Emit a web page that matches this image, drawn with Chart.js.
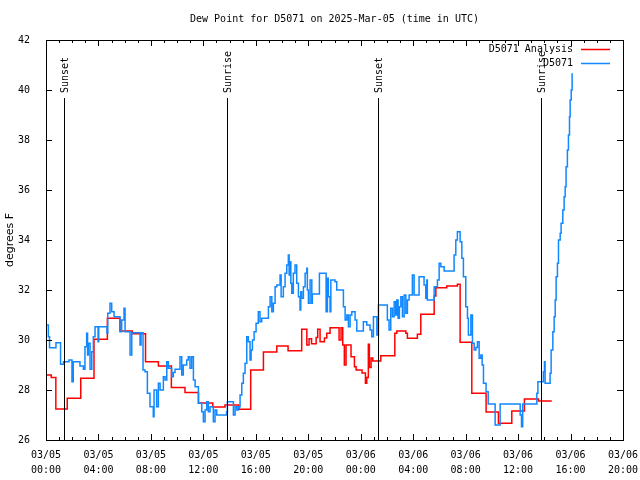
<!DOCTYPE html>
<html><head><meta charset="utf-8">
<script src="https://cdn.jsdelivr.net/npm/chart.js@4/dist/chart.umd.min.js"></script>
<style>html,body{margin:0;padding:0;background:#fff;}#wrap{width:640px;height:480px;}</style>
</head><body><div id="wrap"><canvas id="c" width="640" height="480"></canvas></div>
<script>
// ---- data (hours since 03/05 00:00 UTC, dew point degrees F) ----
const titleText = 'Dew Point for D5071 on 2025-Mar-05 (time in UTC)';
const yAxisLabel = 'degrees F';
const seriesNames = ['D5071 Analysis', 'D5071'];
const seriesColors = ['#ff0000', '#1188ff'];

const analysisHours = [0.00,0.40,0.75,1.62,2.65,3.66,4.68,5.64,6.58,7.59,8.57,9.56,10.60,11.63,12.72,13.65,14.71,15.61,16.58,17.60,18.46,19.50,19.89,20.06,20.25,20.60,20.72,20.90,21.23,21.41,21.66,22.35,22.50,22.63,22.75,22.88,23.26,23.52,23.65,24.10,24.36,24.46,24.58,24.66,24.79,24.92,25.53,26.60,26.75,27.44,27.56,28.32,28.58,29.60,29.73,30.56,31.37,31.58,32.47,33.56,34.50,35.52,36.48,37.55,38.57];
const analysisValues = [28.60,28.50,27.24,27.67,28.47,30.03,30.87,30.36,30.25,29.13,28.96,28.10,27.90,27.48,27.32,27.40,27.23,28.80,29.52,29.76,29.57,30.43,29.80,30.05,29.85,30.10,30.43,29.93,30.08,30.27,30.49,30.00,30.49,29.80,29.00,29.80,29.33,28.93,28.80,28.68,28.27,28.50,29.83,28.90,29.28,29.16,29.37,30.27,30.36,30.27,30.07,30.23,31.03,31.76,32.09,32.16,32.23,29.91,27.87,27.12,26.67,27.16,27.64,27.56,27.56];

const obsHours = [0.05,0.18,0.27,0.76,1.11,1.33,1.75,1.98,2.08,2.59,2.85,2.97,3.10,3.17,3.23,3.36,3.49,3.61,3.74,3.97,4.02,4.65,4.71,4.88,5.01,5.19,5.64,5.77,5.95,6.03,6.41,6.54,7.17,7.25,7.40,7.55,7.73,7.93,8.18,8.24,8.44,8.57,8.70,8.95,9.08,9.21,9.33,9.59,9.71,9.84,10.22,10.35,10.47,10.73,10.85,10.98,11.11,11.24,11.37,11.62,11.88,12.00,12.13,12.26,12.38,12.51,12.76,12.89,13.02,13.77,13.83,14.29,14.42,14.55,14.67,14.80,14.93,15.05,15.18,15.31,15.43,15.56,15.64,15.74,15.87,16.02,16.19,16.32,16.45,16.96,17.09,17.22,17.34,17.47,17.60,17.85,17.93,18.10,18.23,18.36,18.48,18.54,18.61,18.67,18.74,18.86,18.99,19.12,19.25,19.37,19.43,19.50,19.63,19.76,19.89,19.93,20.01,20.14,20.27,20.31,20.85,21.36,21.46,21.53,21.66,21.72,22.04,22.17,22.68,22.81,22.94,23.06,23.19,23.32,23.57,23.70,24.20,24.46,24.71,24.84,24.97,25.23,25.35,26.03,26.16,26.29,26.42,26.55,26.67,26.75,26.85,26.95,27.06,27.18,27.31,27.44,27.56,27.69,27.94,28.07,28.45,28.83,28.96,29.04,29.08,29.60,29.85,29.98,30.11,30.36,31.12,31.25,31.37,31.58,31.71,31.83,32.01,32.14,32.21,32.40,32.52,32.65,32.78,32.90,33.03,33.16,33.26,33.36,33.56,33.72,34.25,34.63,36.16,36.26,36.35,37.43,37.51,37.93,38.01,38.06,38.44,38.52,38.65,38.75,38.83,38.90,39.00,39.08,39.21,39.28,39.41,39.51,39.59,39.66,39.76,39.84,39.92,39.97,40.05,40.12];
const obsValues = [30.60,30.13,29.69,29.89,29.03,29.13,29.20,28.33,29.13,28.96,28.83,29.73,30.27,29.40,29.87,28.83,29.53,30.13,30.53,29.93,30.53,30.27,31.07,31.47,31.13,30.93,30.33,30.80,31.27,30.33,29.40,30.29,29.80,30.29,28.80,28.73,27.87,27.33,26.93,28.00,27.33,28.27,28.00,28.53,28.40,29.13,28.87,28.53,28.70,28.83,29.33,28.60,29.00,29.20,29.33,28.87,29.33,28.40,28.13,27.47,27.13,26.73,27.20,27.53,27.13,27.33,26.73,27.20,27.00,27.13,27.53,27.00,27.33,27.20,27.33,27.80,28.27,28.67,29.07,30.13,29.93,29.20,29.60,30.00,30.33,30.67,31.13,30.73,30.87,31.33,31.73,31.13,31.47,32.13,32.20,32.60,31.73,32.13,32.67,33.00,33.40,32.60,33.13,32.27,31.87,32.67,33.00,32.27,31.73,31.20,31.93,31.67,32.13,32.67,32.87,32.00,31.47,32.40,31.47,31.84,32.67,31.13,32.47,31.73,31.13,32.40,32.33,32.00,31.33,30.80,31.00,30.53,31.00,31.13,30.80,30.36,30.73,30.60,30.40,30.13,30.93,30.20,31.40,30.80,30.40,31.27,30.93,31.53,31.00,31.60,30.87,31.33,31.73,30.93,31.80,31.07,31.60,31.80,32.60,31.80,32.53,32.20,31.67,32.40,31.60,32.13,32.40,33.07,32.93,32.76,33.40,34.00,34.33,33.93,33.27,32.53,31.33,30.87,30.20,31.00,29.87,29.60,29.70,29.93,29.27,29.40,29.00,28.27,27.93,27.44,26.60,27.44,27.00,26.53,27.44,27.87,28.33,28.73,29.13,28.27,28.67,29.60,30.33,30.93,31.60,32.53,33.07,34.00,34.27,34.67,35.20,35.73,36.13,36.93,37.60,38.20,38.93,39.60,40.00,40.67];

const eventHours = [1.40, 13.83, 25.35, 37.78];
const eventLabels = ['Sunset', 'Sunrise', 'Sunset', 'Sunrise'];

const xMin = 0, xMax = 44, xMinorStep = 1, xMajorStep = 4;
const yMin = 26, yMax = 42, yStep = 2;
const startDay = 5, monthStr = '03';

// ---- helpers ----
const MONO = '"DejaVu Sans Mono", "Liberation Mono", monospace';
function pair(hs, vs){ return hs.map((h,i)=>({x:h, y:vs[i]})); }
function tickLabel(v){
  if (Math.round(v) % xMajorStep !== 0) return '';
  const day = startDay + Math.floor(v/24);
  const hh = Math.round(v) % 24;
  return [monthStr + '/' + String(day).padStart(2,'0'), String(hh).padStart(2,'0') + ':00'];
}

const decor = {
  id: 'decor',
  afterDatasetsDraw(chart){
    const ctx = chart.ctx, a = chart.chartArea;
    const xs = chart.scales.x, ys = chart.scales.y;
    ctx.save();
    ctx.strokeStyle = '#000'; ctx.lineWidth = 1;
    ctx.font = '10px ' + MONO; ctx.fillStyle = '#000';
    eventHours.forEach((h, i) => {
      const px = Math.round(xs.getPixelForValue(h)) + 0.5;
      ctx.beginPath(); ctx.moveTo(px, a.top + 58); ctx.lineTo(px, a.bottom); ctx.stroke();
      ctx.save();
      ctx.translate(px + 1, a.top + 53);
      ctx.rotate(-Math.PI/2);
      ctx.textAlign = 'left'; ctx.textBaseline = 'middle';
      ctx.fillText(eventLabels[i], 0, 0);
      ctx.restore();
    });
    ctx.strokeRect(a.left + 0.5, a.top + 0.5, a.right - a.left, a.bottom - a.top);
    ctx.beginPath();
    xs.ticks.forEach(t => {
      const px = Math.round(xs.getPixelForValue(t.value)) + 0.5;
      const len = (Math.round(t.value) % xMajorStep === 0) ? 6 : 3;
      ctx.moveTo(px, a.bottom); ctx.lineTo(px, a.bottom - len);
      ctx.moveTo(px, a.top); ctx.lineTo(px, a.top + len);
    });
    ys.ticks.forEach(t => {
      const py = Math.round(ys.getPixelForValue(t.value)) + 0.5;
      ctx.moveTo(a.left, py); ctx.lineTo(a.left + 6, py);
      ctx.moveTo(a.right, py); ctx.lineTo(a.right - 6, py);
    });
    ctx.stroke();
    ctx.textAlign = 'center'; ctx.textBaseline = 'middle';
    ctx.fillText(titleText, (a.left + a.right)/2, 19);
    chart.data.datasets.forEach((ds, i) => {
      const y = a.top + 9 + i*14;
      ctx.fillStyle = '#000'; ctx.textAlign = 'right';
      ctx.fillText(ds.label, a.right - 50, y);
      ctx.strokeStyle = ds.borderColor; ctx.lineWidth = 1.5;
      ctx.beginPath(); ctx.moveTo(a.right - 42, Math.round(y)+0.5); ctx.lineTo(a.right - 13, Math.round(y)+0.5); ctx.stroke();
    });
    ctx.restore();
  }
};

new Chart(document.getElementById('c'), {
  type: 'line',
  data: {
    datasets: [
      { label: seriesNames[0], data: pair(analysisHours, analysisValues), borderColor: seriesColors[0], borderWidth: 1.5, pointRadius: 0, stepped: true, order: 2, fill: false },
      { label: seriesNames[1], data: pair(obsHours, obsValues), borderColor: seriesColors[1], borderWidth: 1.5, pointRadius: 0, stepped: true, order: 1, fill: false }
    ]
  },
  options: {
    responsive: false, animation: false, devicePixelRatio: 1,
    layout: { padding: { left: 0, right: 17, top: 40, bottom: 0 } },
    plugins: { legend: { display: false }, title: { display: false }, tooltip: { enabled: false } },
    scales: {
      x: {
        type: 'linear', min: xMin, max: xMax,
        grid: { display: false }, border: { display: false },
        ticks: { stepSize: xMinorStep, autoSkip: false, maxRotation: 0, padding: 0, color: '#000',
                 font: { family: MONO, size: 10, lineHeight: 1.5 }, callback: tickLabel },
        afterFit(s){ s.height = 40; s.paddingLeft = 0; s.paddingRight = 0; }
      },
      y: {
        min: yMin, max: yMax,
        grid: { display: false }, border: { display: false },
        ticks: { stepSize: yStep, padding: 8, color: '#000', font: { family: MONO, size: 10 } },
        title: { display: true, text: yAxisLabel, color: '#000', font: { family: '"DejaVu Sans", sans-serif', size: 11 }, padding: { top: 4, bottom: 0 } },
        afterFit(s){ s.width = 46; s.paddingTop = 0; s.paddingBottom = 0; }
      }
    }
  },
  plugins: [decor]
});
</script>
</body></html>
